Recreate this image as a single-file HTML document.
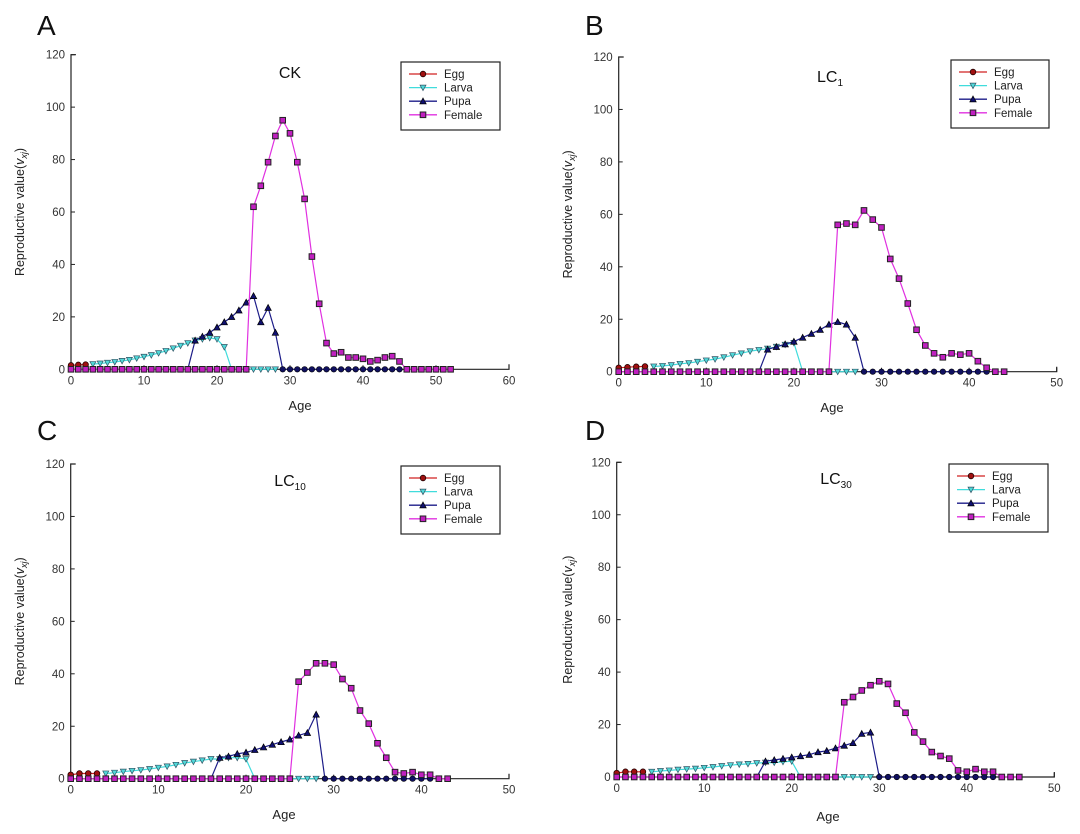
<!DOCTYPE html>
<html><head><meta charset="utf-8"><style>
body{margin:0;background:#fff;}
svg{display:block;font-family:"Liberation Sans",Arial,sans-serif;}
</style></head><body>
<svg id="root" width="1080" height="834" viewBox="0 0 1080 834"></svg>
<script>
// ---- data (values indexed by age 0,1,2,...; null = not present) ----
const yTicks=[0,20,40,60,80,100,120];
const xTicksA=[0,10,20,30,40,50,60];
const xTicksB=[0,10,20,30,40,50];
const seriesNames=["Egg","Larva","Pupa","Female"];
const panelLetters=["A","B","C","D"];
const panelTitles=["CK","LC","LC","LC"];
const titleSubs=["","1","10","30"];

const eggA=[1.5,1.7,1.8];
const larvaA=[null,null,null,2,2.2,2.5,2.8,3.2,3.6,4.2,4.8,5.4,6.2,7,8,9,10,11,11.5,12,11.5,8.5,0,0,0,0,0,0,0];
const pupaA=[null,null,null,null,null,null,null,null,null,null,null,null,null,null,null,null,0,11,12.5,14,16,18,20,22.5,25.5,28,18,23.5,14,0,0,0,0,0,0,0,0,0,0,0,0,0,0,0,0,0];
const femaleA=[0,0,0,0,0,0,0,0,0,0,0,0,0,0,0,0,0,0,0,0,0,0,0,0,0,62,70,79,89,95,90,79,65,43,25,10,6,6.5,4.5,4.5,4,3,3.5,4.5,5,3,0,0,0,0,0,0,0];

const eggB=[1.5,1.7,1.9,2];
const larvaB=[null,null,null,null,2,2.2,2.5,3,3.3,3.8,4.3,4.8,5.5,6.3,7,7.8,8.3,8.8,9.5,10.3,11,0,0,0,0,0,0,0];
const pupaB=[null,null,null,null,null,null,null,null,null,null,null,null,null,null,null,null,0,8.5,9.5,10.5,11.5,13,14.5,16,18,19,18,13,0,0,0,0,0,0,0,0,0,0,0,0,0,0,0];
const femaleB=[0,0,0,0,0,0,0,0,0,0,0,0,0,0,0,0,0,0,0,0,0,0,0,0,0,56,56.5,56,61.5,58,55,43,35.5,26,16,10,7,5.5,7,6.5,7,4,1.5,0,0];

const eggC=[1.5,2,2,2];
const larvaC=[null,null,null,null,2,2.3,2.7,3,3.3,3.7,4.2,4.7,5.3,6,6.5,7,7.5,7.5,8,8,7.5,0,0,0,0,0,0,0,0];
const pupaC=[null,null,null,null,null,null,null,null,null,null,null,null,null,null,null,null,0,8,8.5,9.5,10,11,12,13,14,15,16.5,17.5,24.5,0,0,0,0,0,0,0,0,0,0,0,0,0];
const femaleC=[0,0,0,0,0,0,0,0,0,0,0,0,0,0,0,0,0,0,0,0,0,0,0,0,0,0,37,40.5,44,44,43.5,38,34.5,26,21,13.5,8,2.5,2,2.5,1.5,1.5,0,0];

const eggD=[1.5,2,2,2];
const larvaD=[null,null,null,null,2,2.3,2.5,2.8,3,3.2,3.5,3.8,4.2,4.5,4.8,5,5.3,5.5,5.5,5.8,6,0,0,0,0,0,0,0,0,0];
const pupaD=[null,null,null,null,null,null,null,null,null,null,null,null,null,null,null,null,0,6,6.5,7,7.5,8,8.5,9.5,10,11,12,13,16.5,17,0,0,0,0,0,0,0,0,0,0,0,0,0,0];
const femaleD=[0,0,0,0,0,0,0,0,0,0,0,0,0,0,0,0,0,0,0,0,0,0,0,0,0,0,28.5,30.5,33,35,36.5,35.5,28,24.5,17,13.5,9.5,8,7,2.5,2,3,2,2,0,0,0];

const NS="http://www.w3.org/2000/svg";
const root=document.getElementById('root');
function mk(tag,attrs,parent){const e=document.createElementNS(NS,tag);for(const k in attrs)e.setAttribute(k,attrs[k]);(parent||root).appendChild(e);return e;}

const panels=[
 {x0:71,x1:509,xmax:60,y0:369.3,y1:54.7,xt:xTicksA,data:[eggA,larvaA,pupaA,femaleA],lx:37,ly:35,tx:290,ty:78,leg:[401,62,99,68],ax:300,ay:410,ylx:24},
 {x0:618.7,x1:1056.7,xmax:50,y0:371.7,y1:57,xt:xTicksB,data:[eggB,larvaB,pupaB,femaleB],lx:585,ly:35,tx:830,ty:82,leg:[951,60,98,68],ax:832,ay:412,ylx:572},
 {x0:70.7,x1:509,xmax:50,y0:778.7,y1:464,xt:xTicksB,data:[eggC,larvaC,pupaC,femaleC],lx:37,ly:440,tx:290,ty:486,leg:[401,466,99,68],ax:284,ay:819,ylx:24},
 {x0:616.7,x1:1054.3,xmax:50,y0:777,y1:462.3,xt:xTicksB,data:[eggD,larvaD,pupaD,femaleD],lx:585,ly:440,tx:836,ty:484,leg:[949,464,99,68],ax:828,ay:821,ylx:572}
];
const lineCol=["#d02020","#40dcdc","#1c1c88","#e030e0"];
const fillCol=["#a01010","#50d8d8","#101070","#c020c0"];

function marker(g,k,x,y,zero){
  let e;
  if(k===0){e=mk('circle',{cx:x,cy:y,r:2.8,fill:fillCol[0],stroke:'#200','stroke-width':0.8},g);}
  else if(k===1){e=mk('path',{d:`M${x-3},${y-2.5} L${x+3},${y-2.5} L${x},${y+3} Z`,fill:fillCol[1],stroke:'#356','stroke-width':0.7},g);}
  else if(k===2){
    if(zero){e=mk('circle',{cx:x,cy:y,r:2.8,fill:'#101060',stroke:'#000','stroke-width':0.6},g);}
    else e=mk('path',{d:`M${x-3.2},${y+2.7} L${x+3.2},${y+2.7} L${x},${y-3.2} Z`,fill:fillCol[2],stroke:'#000','stroke-width':0.7},g);}
  else {e=mk('rect',{x:x-2.8,y:y-2.8,width:5.6,height:5.6,fill:fillCol[3],stroke:'#222','stroke-width':1},g);}
  return e;
}

panels.forEach((p,pi)=>{
  const g=mk('g',{});
  
  
  const X=v=>p.x0+(p.x1-p.x0)*v/p.xmax;
  const Y=v=>p.y0+(p.y1-p.y0)*v/120;
  const L=mk('text',{x:p.lx,y:p.ly,'font-size':28,fill:'#111'},g);L.textContent=panelLetters[pi];
  
  
  const ax=mk('path',{d:`M${p.x0+5},${Y(120)} L${p.x0},${Y(120)} L${p.x0},${p.y0} L${p.x1},${p.y0} L${p.x1},${p.y0-5}`,fill:'none',stroke:'#222','stroke-width':1.2},g);
  
  
  yTicks.forEach(t=>{
    mk('line',{x1:p.x0,x2:p.x0+4,y1:Y(t),y2:Y(t),stroke:'#222'},g);
    const tt=mk('text',{x:p.x0-6,y:Y(t)+4,'font-size':11.5,'text-anchor':'end',fill:'#333'},g);tt.textContent=t;
    
    
  });
  p.xt.forEach(t=>{
    mk('line',{x1:X(t),x2:X(t),y1:p.y0,y2:p.y0-4,stroke:'#222'},g);
    const tt=mk('text',{x:X(t),y:p.y0+15,'font-size':11.5,'text-anchor':'middle',fill:'#333'},g);tt.textContent=t;
    
    
  });
  const xl=mk('text',{x:p.ax,y:p.ay,'font-size':13,'text-anchor':'middle',fill:'#222'},g);xl.textContent='Age';
  
  
  const yc=(p.y0+p.y1)/2;
  const yl=mk('text',{x:p.ylx,y:yc,'font-size':12.5,'text-anchor':'middle',fill:'#222',transform:`rotate(-90 ${p.ylx} ${yc})`},g);
  yl.innerHTML='Reproductive value(<tspan font-style="italic">v</tspan><tspan font-style="italic" font-size="9" dy="3">xj</tspan><tspan dy="-3">)</tspan>';
  
  
  const ti=mk('text',{x:p.tx,y:p.ty,'font-size':16,'text-anchor':'middle',fill:'#111'},g);
  ti.innerHTML=panelTitles[pi]+(titleSubs[pi]?'<tspan font-size="10" dy="4">'+titleSubs[pi]+'</tspan>':'');
  
  
  [1,2,0,3].forEach(k=>{
    const arr=p.data[k];
    const sg=mk('g',{},g);
    
    
    let d='';let pen=false;
    arr.forEach((v,i)=>{if(v===null){pen=false;return;}d+=(pen?'L':'M')+X(i).toFixed(1)+','+Y(v).toFixed(1)+' ';pen=true;});
    mk('path',{d:d,fill:'none',stroke:lineCol[k],'stroke-width':1.2},sg);
    arr.forEach((v,i)=>{if(v===null)return;const m=marker(sg,k,X(i),Y(v),v===0);
      
      });
  });
  const [lx,ly,lw,lh]=p.leg;
  const lg=mk('g',{},g);
  
  
  mk('rect',{x:lx,y:ly,width:lw,height:lh,fill:'#fff',stroke:'#222','stroke-width':1.2},lg);
  seriesNames.forEach((n,k)=>{
    const yy=ly+12+k*13.6;
    const eg=mk('g',{},lg);
    
    
    mk('line',{x1:lx+8,x2:lx+36,y1:yy,y2:yy,stroke:lineCol[k],'stroke-width':1.3},eg);
    marker(eg,k,lx+22,yy,false);
    const t=mk('text',{x:lx+43,y:yy+4,'font-size':11.5,fill:'#222'},eg);t.textContent=n;
  });
});
</script>
</body></html>
